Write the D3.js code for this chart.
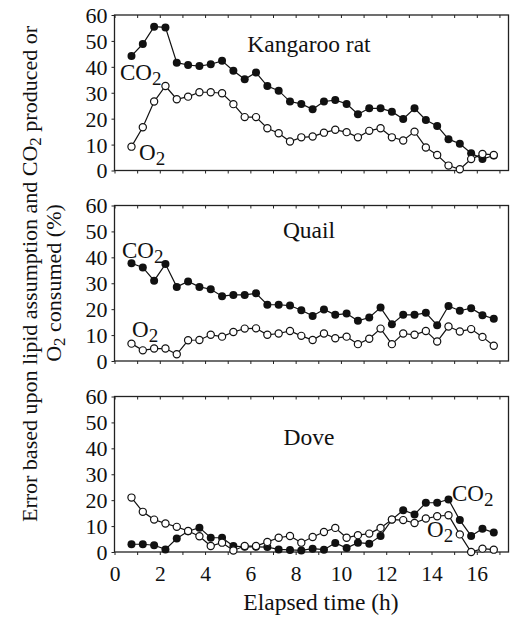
<!DOCTYPE html>
<html>
<head>
<meta charset="utf-8">
<script src="https://cdn.jsdelivr.net/npm/d3@7"></script>
<style>
  body { margin: 0; background: #fff; }
  svg { display: block; }
</style>
</head>
<body>
<svg id="chart" width="514" height="617"></svg>
<script>
// elapsed time (h) of each measurement
var times = [0.75, 1.25, 1.75, 2.25, 2.75, 3.25, 3.75, 4.25, 4.75, 5.25, 5.75, 6.25, 6.75,
  7.25, 7.75, 8.25, 8.75, 9.25, 9.75, 10.25, 10.75, 11.25, 11.75, 12.25, 12.75, 13.25,
  13.75, 14.25, 14.75, 15.25, 15.75, 16.25, 16.75];

var ratCO2 = [44.2, 48.8, 55.5, 55.2, 41.6, 40.7, 40.3, 41.0, 42.3, 38.5, 35.2, 37.8, 32.6,
  30.8, 26.6, 25.7, 23.6, 26.6, 27.2, 25.7, 21.7, 24.0, 24.0, 22.7, 19.9, 24.0,
  19.5, 17.2, 12.1, 10.3, 6.7, 4.4, 5.8];
var ratO2 = [9.2, 16.7, 26.6, 32.6, 27.5, 28.5, 30.2, 30.2, 29.8, 25.6, 20.6, 20.6, 16.3,
  14.4, 11.2, 12.8, 13.1, 14.6, 15.7, 14.8, 12.8, 15.3, 16.3, 12.8, 11.6, 15.0,
  8.9, 6.0, 1.9, 0.5, 4.4, 6.4, 6.0];

var quailCO2 = [37.7, 36.1, 31.0, 37.4, 28.6, 30.7, 28.6, 27.7, 25.0, 25.5, 25.5, 26.1, 21.7,
  21.7, 21.4, 19.6, 17.4, 19.9, 17.8, 18.3, 15.5, 16.8, 20.6, 14.2, 17.8, 17.8,
  18.6, 13.8, 21.2, 19.4, 20.4, 17.7, 16.3];
var quailO2 = [6.7, 4.1, 4.8, 4.8, 2.6, 8.0, 8.1, 10.1, 9.4, 11.2, 12.5, 12.6, 10.1,
  10.6, 11.6, 9.7, 8.1, 10.6, 8.8, 9.4, 6.5, 8.6, 12.5, 6.5, 10.6, 10.1,
  11.6, 7.5, 13.3, 11.4, 12.3, 9.3, 5.9];

var doveCO2 = [3.0, 3.0, 2.6, 1.0, 5.2, 8.0, 9.4, 5.5, 5.5, 2.3, 2.0, 2.0, 1.9,
  1.0, 0.8, 0.6, 1.3, 0.9, 3.5, 1.5, 3.6, 3.2, 6.2, 12.5, 16.1, 14.5,
  19.0, 19.0, 20.3, 12.3, 6.2, 9.0, 7.5];
var doveO2 = [21.0, 15.5, 12.5, 11.0, 9.7, 8.1, 6.1, 2.3, 3.6, 0.6, 2.3, 2.3, 3.9,
  5.5, 6.2, 3.6, 5.8, 7.7, 9.3, 5.5, 6.5, 7.1, 9.3, 12.5, 12.3, 11.2,
  12.9, 13.8, 14.2, 6.8, 0.0, 1.3, 0.9];

var yTicks = [0, 10, 20, 30, 40, 50, 60];
var xTickLabels = [0, 2, 4, 6, 8, 10, 12, 14, 16];

var FONT = 'Liberation Serif';

var svg = d3.select('#chart');
var left = 114.5, right = 508.5, panelH = 155.5;
var x = d3.scaleLinear().domain([0, 17.4]).range([left, right]);

var panels = [
  {name: 'Kangaroo rat', top: 15, co2: ratCO2, o2: ratO2, nameY: 52,
    co2Lab: [120, 80], o2Lab: [139, 160]},
  {name: 'Quail', top: 205.5, co2: quailCO2, o2: quailO2, nameY: 238,
    co2Lab: [122, 258], o2Lab: [132, 337]},
  {name: 'Dove', top: 396.5, co2: doveCO2, o2: doveO2, nameY: 445,
    co2Lab: [452, 501], o2Lab: [427, 537]}
];

function subLabel(g, px, py, main) {
  var t = g.append('text').attr('x', px).attr('y', py)
    .style('font-family', FONT).style('font-size', '23px').attr('fill', '#111');
  t.append('tspan').text(main);
  t.append('tspan').text('2').attr('dy', 5).style('font-size', '19px');
}

panels.forEach(function(p, k) {
  var y = d3.scaleLinear().domain([0, 60]).range([p.top + panelH, p.top]);
  var g = svg.append('g');

  // bottom axis (ticks every hour)
  var xAxis = d3.axisBottom(x).tickValues(d3.range(0, 18)).tickSize(3).tickSizeOuter(0)
    .tickFormat(function(d) { return (k == 2 && xTickLabels.indexOf(d) >= 0) ? d : ''; });
  var xa = g.append('g').attr('transform', 'translate(0,' + (p.top + panelH) + ')').call(xAxis);
  xa.attr('font-family', null).attr('font-size', null);
  xa.selectAll('text').style('font-family', FONT).style('font-size', '21.5px')
    .attr('fill', '#111').attr('dy', '0.95em').attr('y', 9);

  // top ticks pointing inward
  var xTop = d3.axisBottom(x).tickValues(d3.range(0, 18)).tickSize(3).tickSizeOuter(0).tickFormat('');
  g.append('g').attr('transform', 'translate(0,' + p.top + ')').call(xTop);

  var yAxis = d3.axisLeft(y).tickValues(yTicks).tickSize(3).tickSizeOuter(0);
  var ya = g.append('g').attr('transform', 'translate(' + left + ',0)').call(yAxis);
  ya.attr('font-family', null).attr('font-size', null);
  ya.selectAll('text').style('font-family', FONT).style('font-size', '22px')
    .attr('fill', '#111').attr('x', -7).attr('dy', '0.34em');

  g.selectAll('.domain').remove();
  g.selectAll('.tick line').attr('stroke', '#222').attr('stroke-width', 1);

  g.append('rect').attr('x', left).attr('y', p.top).attr('width', right - left).attr('height', panelH)
    .attr('fill', 'none').attr('stroke', '#222').attr('stroke-width', 1.3);

  var line = d3.line().x(function(d, i) { return x(times[i]); }).y(function(d) { return y(d); });

  g.append('path').datum(p.co2).attr('d', line).attr('fill', 'none').attr('stroke', '#111').attr('stroke-width', 1.2);
  g.selectAll('.co2').data(p.co2).enter().append('circle').attr('class', 'co2')
    .attr('cx', function(d, i) { return x(times[i]); }).attr('cy', function(d) { return y(d); })
    .attr('r', 4).attr('fill', '#111');

  g.append('path').datum(p.o2).attr('d', line).attr('fill', 'none').attr('stroke', '#111').attr('stroke-width', 1.2);
  g.selectAll('.o2').data(p.o2).enter().append('circle').attr('class', 'o2')
    .attr('cx', function(d, i) { return x(times[i]); }).attr('cy', function(d) { return y(d); })
    .attr('r', 3.6).attr('fill', '#fff').attr('stroke', '#111').attr('stroke-width', 1.2);

  g.append('text').text(p.name).attr('x', 309).attr('y', p.nameY).attr('fill', '#111')
    .attr('text-anchor', 'middle').style('font-family', FONT).style('font-size', '23.5px');

  subLabel(g, p.co2Lab[0], p.co2Lab[1], 'CO');
  subLabel(g, p.o2Lab[0], p.o2Lab[1], 'O');
});

svg.append('text').text('Elapsed time (h)').attr('x', 321).attr('y', 610).attr('fill', '#111')
  .attr('text-anchor', 'middle').style('font-family', FONT).style('font-size', '23.5px');

// y title, two rotated lines
var t1 = svg.append('text').attr('transform', 'translate(37,274) rotate(-90)').attr('fill', '#111')
  .attr('text-anchor', 'middle').style('font-family', FONT).style('font-size', '22px');
t1.append('tspan').text('Error based upon lipid assumption and CO');
t1.append('tspan').text('2').attr('dy', 4).style('font-size', '17px');
t1.append('tspan').text(' produced or').attr('dy', -4);

var t2 = svg.append('text').attr('transform', 'translate(61,283) rotate(-90)').attr('fill', '#111')
  .attr('text-anchor', 'middle').style('font-family', FONT).style('font-size', '22px');
t2.append('tspan').text('O');
t2.append('tspan').text('2').attr('dy', 4).style('font-size', '17px');
t2.append('tspan').text(' consumed (%)').attr('dy', -4);
</script>
</body>
</html>
